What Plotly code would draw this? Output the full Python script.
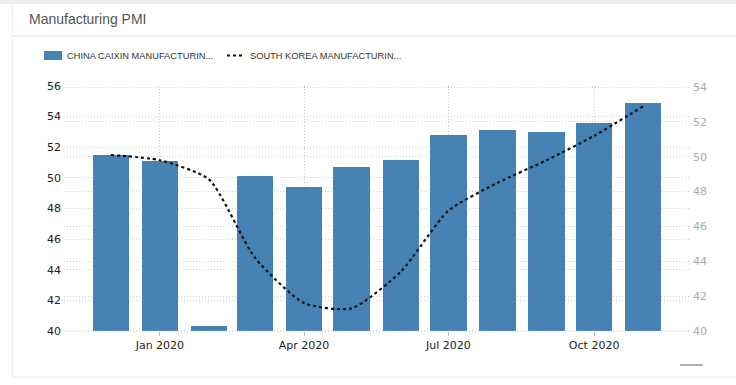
import plotly.graph_objects as go

months = ["2019-12-01", "2020-01-01", "2020-02-01", "2020-03-01", "2020-04-01", "2020-05-01",
          "2020-06-01", "2020-07-01", "2020-08-01", "2020-09-01", "2020-10-01", "2020-11-01"]
china_caixin = [51.5, 51.1, 40.3, 50.1, 49.4, 50.7, 51.2, 52.8, 53.1, 53.0, 53.6, 54.9]
south_korea = [50.1, 49.8, 48.7, 44.2, 41.6, 41.3, 43.4, 46.9, 48.5, 49.8, 51.2, 52.9]
x_tick_vals = ["2020-01-01", "2020-04-01", "2020-07-01", "2020-10-01"]
x_tick_text = ["Jan 2020", "Apr 2020", "Jul 2020", "Oct 2020"]
left_ticks = [40, 42, 44, 46, 48, 50, 52, 54, 56]
right_ticks = [40, 42, 44, 46, 48, 50, 52, 54]
title = "Manufacturing PMI"
legend_names = ["CHINA CAIXIN MANUFACTURIN...", "SOUTH KOREA MANUFACTURIN..."]

W, H = 736, 385
L, R, T, B = 64, 690, 86, 331
pw, ph = R - L, B - T


def px(x):
    return (x - L) / pw


def py(y):
    return (B - y) / ph


fig = go.Figure()
fig.add_trace(go.Bar(x=months, y=china_caixin, name=legend_names[0],
                     marker=dict(color="#4682B4", line=dict(width=0)),
                     width=23 * 24 * 3600 * 1000, yaxis="y", showlegend=False))
fig.add_trace(go.Scatter(x=months, y=south_korea, name=legend_names[1], mode="lines",
                         line=dict(color="#111111", width=2.2, dash="dot", shape="spline", smoothing=0.6),
                         yaxis="y2", showlegend=False))

grid_col = "#cccccc"
grid_dash = "1px,2px"
font_fam = "DejaVu Sans"
fig.update_layout(
    width=W, height=H,
    margin=dict(l=L, r=W - R, t=T, b=H - B, pad=0),
    paper_bgcolor="white", plot_bgcolor="white",
    bargap=0,
    xaxis=dict(type="date", range=["2019-11-01 12:00", "2020-11-30 12:00"],
               tickvals=x_tick_vals, ticktext=x_tick_text,
               showgrid=True, gridcolor=grid_col, griddash=grid_dash, gridwidth=1,
               ticks="outside", ticklen=4, tickcolor="#bbbbbb",
               tickfont=dict(family=font_fam, size=11, color="#222222"),
               showline=False, zeroline=False),
    yaxis=dict(range=[40, 56], tickvals=left_ticks,
               showgrid=True, gridcolor=grid_col, griddash=grid_dash, gridwidth=1,
               tickfont=dict(family=font_fam, size=11, color="#222222"),
               ticks="", ticklabelstandoff=2, zeroline=False, showline=False),
    yaxis2=dict(range=[40, 54.06], tickvals=right_ticks, overlaying="y", side="right",
                showgrid=True, gridcolor=grid_col, griddash=grid_dash, gridwidth=1,
                tickfont=dict(family=font_fam, size=11, color="#aaaaaa"),
                ticks="", ticklabelstandoff=2, zeroline=False, showline=False),
    showlegend=False,
)

# baseline (dotted)
fig.add_shape(type="line", xref="paper", yref="paper", x0=0, x1=1, y0=0, y1=0,
              line=dict(color="#bbbbbb", width=1, dash=grid_dash), layer="above")

# container decorations
fig.add_shape(type="rect", xref="paper", yref="paper", x0=px(0), x1=px(W), y0=py(0), y1=py(4),
              fillcolor="#eeeeee", line=dict(width=0), layer="below")
fig.add_shape(type="line", xref="paper", yref="paper", x0=px(12), x1=px(W), y0=py(36), y1=py(36),
              line=dict(color="#e2e2e2", width=1))
fig.add_shape(type="line", xref="paper", yref="paper", x0=px(12), x1=px(W), y0=py(377), y1=py(377),
              line=dict(color="#eeeeee", width=1))
fig.add_shape(type="line", xref="paper", yref="paper", x0=px(12.5), x1=px(12.5), y0=py(4), y1=py(377),
              line=dict(color="#eeeeee", width=1))
fig.add_shape(type="line", xref="paper", yref="paper", x0=px(680), x1=px(703), y0=py(365), y1=py(365),
              line=dict(color="#666666", width=1))

fig.add_annotation(text=title, xref="paper", yref="paper", x=px(27), y=py(19),
                   xanchor="left", yanchor="middle", showarrow=False,
                   font=dict(family="Liberation Sans", size=14, color="#555555"))

# legend
fig.add_shape(type="rect", xref="paper", yref="paper", x0=px(44), x1=px(62), y0=py(51), y1=py(60),
              fillcolor="#4682B4", line=dict(width=0))
fig.add_annotation(text=legend_names[0], xref="paper", yref="paper", x=px(65), y=py(55.5),
                   xanchor="left", yanchor="middle", showarrow=False,
                   font=dict(family="Liberation Sans", size=9.3, color="#333333"))
fig.add_shape(type="line", xref="paper", yref="paper", x0=px(227), x1=px(245), y0=py(55.5), y1=py(55.5),
              line=dict(color="#111111", width=2, dash="dot"))
fig.add_annotation(text=legend_names[1], xref="paper", yref="paper", x=px(248), y=py(55.5),
                   xanchor="left", yanchor="middle", showarrow=False,
                   font=dict(family="Liberation Sans", size=9.3, color="#333333"))

fig.write_html("out.html", config={"displayModeBar": False},
               post_script="document.body.style.margin='0';document.body.style.padding='0';")
